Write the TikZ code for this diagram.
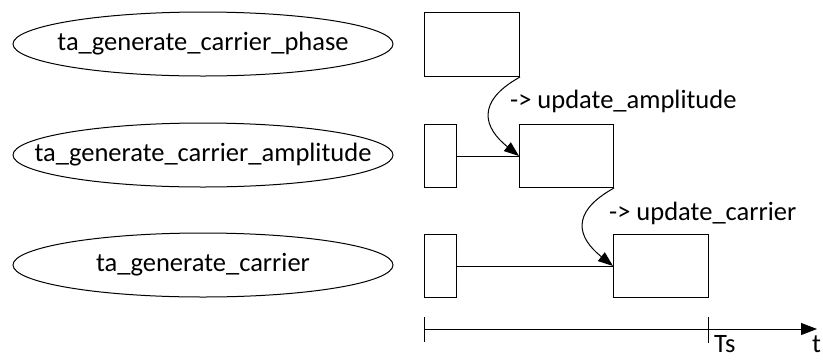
\documentclass[tikz,border=0pt]{standalone}
\usepackage{fontspec}
\setmainfont{Carlito}
\usetikzlibrary{arrows.meta}
\begin{document}
\begin{tikzpicture}[x=1pt,y=-1pt,
  every node/.style={font=\fontsize{26.5}{30}\selectfont},
  task/.style={inner sep=0pt},
  ring/.style={line width=1pt},
  slot/.style={draw, line width=1pt, inner sep=0pt, anchor=north west},
  conn/.style={line width=1pt},
  wake/.style={line width=1pt, -{Triangle[length=15pt,width=11pt]}},
  lbl/.style={inner sep=0pt, anchor=west}]
\useasboundingbox (0,0) rectangle (823,360);
% tasks
\node[task] (t1) at (203,44) {ta\_generate\_carrier\_phase};
\node[task] (t2) at (203,155) {ta\_generate\_carrier\_amplitude};
\node[task] (t3) at (203,265) {ta\_generate\_carrier};
\draw[ring] (t1.center) ellipse [x radius=190, y radius=32];
\draw[ring] (t2.center) ellipse [x radius=190, y radius=32];
\draw[ring] (t3.center) ellipse [x radius=190, y radius=32];
% boxes
\node[slot, minimum width=95pt, minimum height=64pt] (A) at (424,12) {};
\node[slot, minimum width=32pt, minimum height=63pt] (B) at (424,124) {};
\node[slot, minimum width=94pt, minimum height=63pt] (C) at (519,124) {};
\node[slot, minimum width=32pt, minimum height=63pt] (D) at (424,234) {};
\node[slot, minimum width=95pt, minimum height=63pt] (E) at (613,234) {};
% waits
\draw[conn] (B.east) -- (C.west);
\draw[conn] (D.east) -- (E.west);
% wakeups
\draw[wake] (A.south east) .. controls +(-45,25) and +(-35,-28) .. (C.west);
\draw[wake] (C.south east) .. controls +(-45,25) and +(-35,-28) .. (E.west);
\node[lbl] (l1) at (510,101) {-> update\_amplitude};
\node[lbl] (l2) at (609,213) {-> update\_carrier};
% time axis
\coordinate (a0) at (424,329);
\coordinate (a1) at (817,329);
\draw[line width=1pt, -{Triangle[length=16pt,width=12pt]}] (a0) -- (a1);
\draw[line width=1pt] (424,317) -- (424,342);
\draw[line width=1pt] (708,317) -- (708,343);
\node[inner sep=0pt, anchor=base west] (tsl) at (714,352) {Ts};
\node[inner sep=0pt, anchor=base west] (tl) at (812,352) {t};
\end{tikzpicture}
\end{document}
